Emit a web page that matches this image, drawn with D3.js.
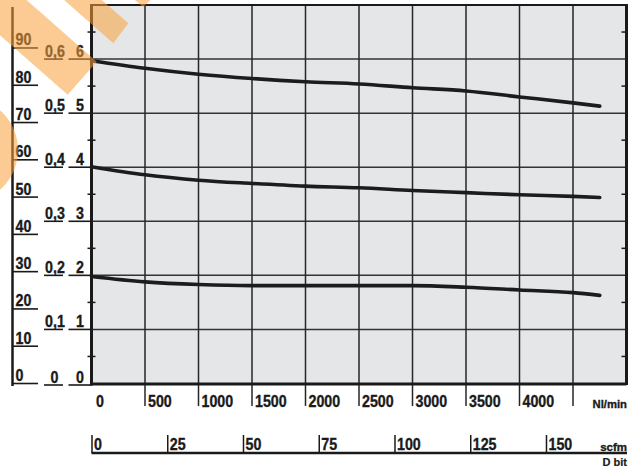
<!DOCTYPE html>
<html><head><meta charset="utf-8">
<script src="https://cdn.jsdelivr.net/npm/d3@7"></script>
<style>
html,body{margin:0;padding:0;background:#fff;}
svg{display:block;}
text{font-family:"Liberation Sans",Arial,sans-serif;font-weight:bold;fill:#1a1a1a;}
</style></head>
<body>
<script>
// ---- data ----
const flowTicks = [0, 500, 1000, 1500, 2000, 2500, 3000, 3500, 4000];
const flowGrid = [500, 1000, 1500, 2000, 2500, 3000, 3500, 4000, 4500];
const scfmTicks = [0, 25, 50, 75, 100, 125, 150];
const psiTicks = [0, 10, 20, 30, 40, 50, 60, 70, 80, 90];
const barTicks = [0, 1, 2, 3, 4, 5, 6];
const mpaLabels = ["0", "0,1", "0,2", "0,3", "0,4", "0,5", "0,6"];
const flowX = [0, 500, 1000, 1500, 2000, 2500, 3000, 3500, 4000, 4500, 4750];
const curve6 = [5.97, 5.83, 5.72, 5.64, 5.58, 5.54, 5.47, 5.41, 5.30, 5.19, 5.13];
const curve4 = [4.01, 3.86, 3.76, 3.70, 3.65, 3.62, 3.57, 3.53, 3.49, 3.46, 3.44];
const curve2 = [1.98, 1.88, 1.83, 1.81, 1.81, 1.81, 1.81, 1.78, 1.73, 1.68, 1.63];
const unitFlow = "Nl/min", unitScfm = "scfm", unitBar = "D bit";

// ---- layout ----
const W = 639, H = 473;
const svg = d3.select("body").append("svg").attr("width", W).attr("height", H);
const x = d3.scaleLinear().domain([0, 5000]).range([91.5, 626.5]);
const y = d3.scaleLinear().domain([0, 7]).range([383.5, 5]);
const xs = d3.scaleLinear().domain([0, 5000 / 28.3168]).range([91.5, 626.5]);
const yPsi = d3.scaleLinear().domain([0, 7 * 14.5038]).range([383.5, 5]);

function label(g, data, fx, fy, ft, size, anchor, weight, sx) {
  return g.selectAll(null).data(data).join("text")
    .attr("transform", (d, i) => `translate(${fx(d, i)},${fy(d, i)}) scale(${sx || 0.84},1)`)
    .attr("font-size", size).attr("text-anchor", anchor || "start")
    .attr("font-weight", weight || "bold")
    .attr("stroke", "#1a1a1a").attr("stroke-width", weight === "normal" ? 0.2 : 0.35)
    .text(ft);
}

// plot background
svg.append("rect").attr("x", x(0)).attr("y", y(7)).attr("width", x(5000) - x(0))
  .attr("height", y(0) - y(7)).attr("fill", "#e5e6e8");

// horizontal grid
svg.append("g").selectAll("line").data(barTicks.filter(d => d > 0)).join("line")
  .attr("x1", x(0)).attr("x2", x(5000)).attr("y1", d => y(d)).attr("y2", d => y(d))
  .attr("stroke", "#333").attr("stroke-width", 1.5);
// vertical grid (extending below the axis as tick marks)
svg.append("g").selectAll("line").data(flowGrid).join("line")
  .attr("x1", d => x(d)).attr("x2", d => x(d)).attr("y1", y(7)).attr("y2", 406)
  .attr("stroke", "#262626").attr("stroke-width", 1.5);

// frame
svg.append("line").attr("x1", x(0)).attr("x2", x(5000)).attr("y1", y(7)).attr("y2", y(7))
  .attr("stroke", "#1a1a1a").attr("stroke-width", 2);
svg.append("line").attr("x1", x(5000)).attr("x2", x(5000)).attr("y1", y(7) - 1).attr("y2", 385)
  .attr("stroke", "#1a1a1a").attr("stroke-width", 3);
svg.append("line").attr("x1", x(0)).attr("x2", x(0)).attr("y1", y(7) - 1).attr("y2", 385.5)
  .attr("stroke", "#1a1a1a").attr("stroke-width", 3);
svg.append("line").attr("x1", x(0) - 1).attr("x2", x(5000)).attr("y1", 384).attr("y2", 384)
  .attr("stroke", "#1a1a1a").attr("stroke-width", 3);

// half ticks
const halves = d3.range(0.5, 7, 1);
svg.append("g").selectAll("line").data(halves).join("line")
  .attr("x1", 87.5).attr("x2", 95.5).attr("y1", d => y(d)).attr("y2", d => y(d))
  .attr("stroke", "#1a1a1a").attr("stroke-width", 1.5);
svg.append("g").selectAll("line").data(halves).join("line")
  .attr("x1", 621.5).attr("x2", 626).attr("y1", d => y(d)).attr("y2", d => y(d))
  .attr("stroke", "#1a1a1a").attr("stroke-width", 1.5);

// left label columns
const yb = d => d === 0 ? 385 : y(d);
const yp = d => Math.min(yPsi(d), 385);
// psi
svg.append("line").attr("x1", 12.5).attr("x2", 12.5).attr("y1", 7).attr("y2", 386)
  .attr("stroke", "#1a1a1a").attr("stroke-width", 2.5);
const gp = svg.append("g");
gp.selectAll("line").data(psiTicks).join("line")
  .attr("x1", 12).attr("x2", 38).attr("y1", yp).attr("y2", yp)
  .attr("stroke", "#1a1a1a").attr("stroke-width", 1.6);
label(gp, psiTicks, () => 15.5, d => yp(d) - 2.5, d => d, 17);
// MPa
const gm = svg.append("g");
gm.selectAll("line").data(barTicks).join("line")
  .attr("x1", 44).attr("x2", 63).attr("y1", yb).attr("y2", yb)
  .attr("stroke", "#1a1a1a").attr("stroke-width", 1.6);
label(gm, barTicks, (d) => d === 0 ? 50.5 : 45, d => yb(d) - 2.5, (d, i) => mpaLabels[i], 17);
// bar
const gb = svg.append("g");
gb.selectAll("line").data(barTicks).join("line")
  .attr("x1", 68.5).attr("x2", x(0)).attr("y1", yb).attr("y2", yb)
  .attr("stroke", "#1a1a1a").attr("stroke-width", 1.6);
label(gb, barTicks, () => 84, d => yb(d) - 2.5, d => d, 17, "end");

// flow axis labels
label(svg.append("g"), flowTicks, d => d === 0 ? x(0) + 4.5 : x(d) + 3, () => 406.5, d => d, 17);
label(svg.append("g"), [unitFlow], () => 627, () => 407.5, d => d, 11.5, "end", "bold", 0.98);

// scfm axis
svg.append("line").attr("x1", xs(0)).attr("x2", 627).attr("y1", 453).attr("y2", 453)
  .attr("stroke", "#1a1a1a").attr("stroke-width", 2.5);
svg.append("g").selectAll("line").data(scfmTicks).join("line")
  .attr("x1", d => xs(d) + 0.5).attr("x2", d => xs(d) + 0.5).attr("y1", 435).attr("y2", 453)
  .attr("stroke", "#1a1a1a").attr("stroke-width", 1.5);
label(svg.append("g"), scfmTicks, d => xs(d) + 2.5, () => 449.5, d => d, 17);
label(svg.append("g"), [unitScfm], () => 627, () => 450.5, d => d, 11.5, "end", "bold", 1.0);
label(svg.append("g"), [unitBar], () => 627, () => 465.5, d => d, 11, "end", "normal", 1.0);

// curves
const line = d3.line().x((d, i) => x(flowX[i])).y(d => y(d)).curve(d3.curveMonotoneX);
[curve6, curve4, curve2].forEach(c => {
  svg.append("path").attr("d", line(c)).attr("fill", "none")
    .attr("stroke", "#1c1c1c").attr("stroke-width", 3.6).attr("stroke-linecap", "round");
});

// watermark (decorative)
const wm = svg.append("g").attr("fill", "#f9a23c").attr("opacity", 0.55);
wm.append("polygon").attr("points", "-53,-70 96.7,61.7 67.7,94.7 -82,-37");
wm.append("polygon").attr("points", "-21.7,-108.7 128.3,23.3 113.3,43.3 -36.7,-88.7");
wm.append("polygon").attr("points", "129,-5 156,-5 143,7");
wm.append("circle").attr("cx", -35).attr("cy", 150).attr("r", 53);
</script>
</body></html>
